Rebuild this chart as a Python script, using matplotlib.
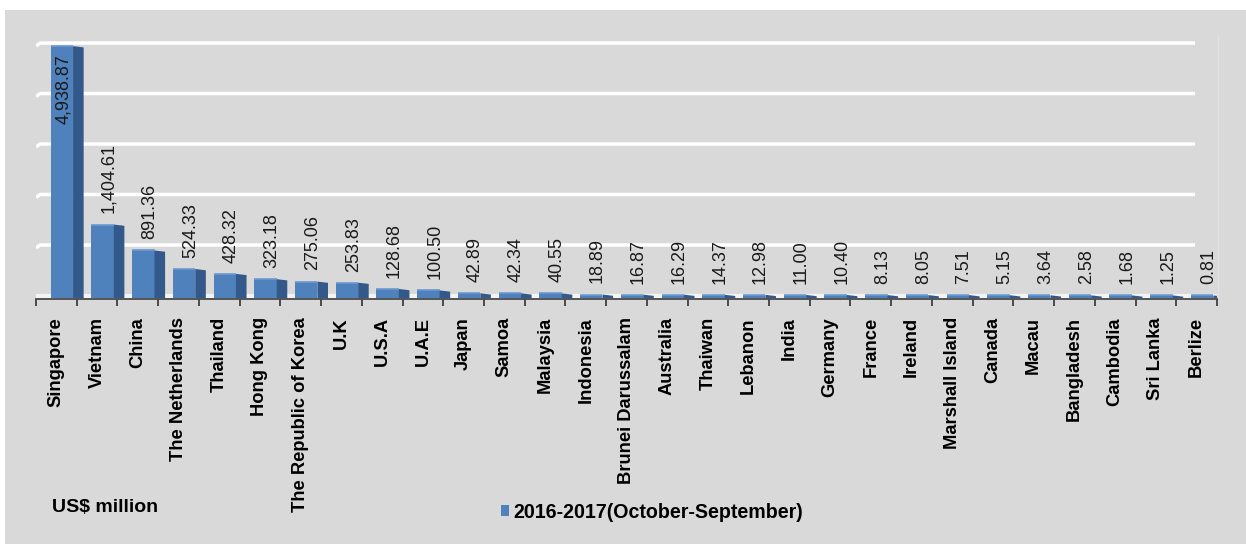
import matplotlib.pyplot as plt
from matplotlib.patches import Polygon, Rectangle, Patch
import numpy as np

countries = ["Singapore", "Vietnam", "China", "The Netherlands", "Thailand", "Hong Kong",
             "The Republic of Korea", "U.K", "U.S.A", "U.A.E", "Japan", "Samoa", "Malaysia",
             "Indonesia", "Brunei Darussalam", "Australia", "Thaiwan", "Lebanon", "India",
             "Germany", "France", "Ireland", "Marshall Island", "Canada", "Macau",
             "Bangladesh", "Cambodia", "Sri Lanka", "Berlize"]
values = [4938.87, 1404.61, 891.36, 524.33, 428.32, 323.18, 275.06, 253.83, 128.68, 100.50,
          42.89, 42.34, 40.55, 18.89, 16.87, 16.29, 14.37, 12.98, 11.00, 10.40, 8.13, 8.05,
          7.51, 5.15, 3.64, 2.58, 1.68, 1.25, 0.81]
grid_values = [1000, 2000, 3000, 4000, 5000]
series_name = "2016-2017(October-September)"

plt.rcParams['font.family'] = ['Liberation Sans', 'DejaVu Sans']

bg = '#d9d9d9'
front_c = '#4f81bd'
side_c = '#33598a'
top_c = '#6d98cf'

fig = plt.figure(figsize=(12.46, 5.44), dpi=100)
fig.patch.set_facecolor('white')
fig.patches.append(Rectangle((5 / 1246, 0), 1, 1 - 10 / 544, transform=fig.transFigure,
                             facecolor=bg, edgecolor='none', zorder=-10))

ax = fig.add_axes([36 / 1246, 1 - 299 / 544, 1181 / 1246, 259 / 544])
ax.set_facecolor('none')
n = len(countries)
ax.set_xlim(-0.5, n - 0.5)
ax.set_ylim(-70, 5060)

# back wall gridlines with a little perspective kink on the left
for g in grid_values:
    ax.plot([-0.5, -0.4, n - 1.04], [g - 60, g, g], color='white', lw=2.5,
            solid_capstyle='butt', zorder=1)
# floor
ax.plot([-0.5, n - 0.5], [-15, -15], color='#f4f4f4', lw=3, zorder=1)
ax.plot([n - 0.47, n - 0.47], [-10, 5150], color='#e3e3e3', lw=1, zorder=0, clip_on=False)

base = -55
d = 0.26
drop = 25
for i, v in enumerate(values):
    x0 = i - 0.14
    x1 = i + 0.41
    ax.add_patch(Rectangle((x0, base), x1 - x0, v - base, facecolor=front_c,
                           edgecolor='none', zorder=3))
    ax.add_patch(Polygon([(x1, base), (x1 + d, base), (x1 + d, max(v - drop, base + 15)), (x1, v)],
                         closed=True, facecolor=side_c, edgecolor='none', zorder=3))
    ax.plot([x0, x1], [v, v], color=top_c, lw=1.2, zorder=4, solid_capstyle='butt')

    label = f"{v:,.2f}"
    if i == 0:
        ax.annotate(label, (i + 0.18, v), xytext=(0, -6), textcoords='offset points',
                    rotation=90, ha='center', va='top', fontsize=13, color='#1a1a1a', zorder=5)
    else:
        ax.annotate(label, (i + 0.29, v), xytext=(0, 8), textcoords='offset points',
                    rotation=90, ha='center', va='bottom', fontsize=13, color='#1a1a1a', zorder=5)

# category boundaries carry the tick marks, centres carry the names
ax.set_xticks(np.arange(n + 1) - 0.5)
ax.set_xticklabels([])
ax.set_xticks(np.arange(n), minor=True)
ax.set_xticklabels(countries, minor=True, rotation=90, fontsize=13.2, fontweight='bold',
                   va='top', ha='center')
ax.tick_params(axis='x', which='major', direction='out', length=5, width=1.3, color='#404040')
ax.tick_params(axis='x', which='minor', length=0, pad=13)
ax.set_yticks([])
for s in ['top', 'right', 'left']:
    ax.spines[s].set_visible(False)
ax.spines['bottom'].set_color('#4a4a4a')
ax.spines['bottom'].set_linewidth(1.3)

fig.text(52 / 1246, 1 - 508 / 544, "US$ million", fontsize=14, fontweight='bold',
         va='center', ha='left')
fig.legend(handles=[Patch(facecolor=front_c, label=series_name)], loc='center left',
           bbox_to_anchor=(491 / 1246, 1 - 512 / 544), frameon=False, borderpad=0,
           handlelength=0.42, handleheight=0.42, handletextpad=0.2,
           prop={'size': 14.1, 'weight': 'bold'})

fig.savefig('out.png', dpi=100, facecolor=fig.get_facecolor())
